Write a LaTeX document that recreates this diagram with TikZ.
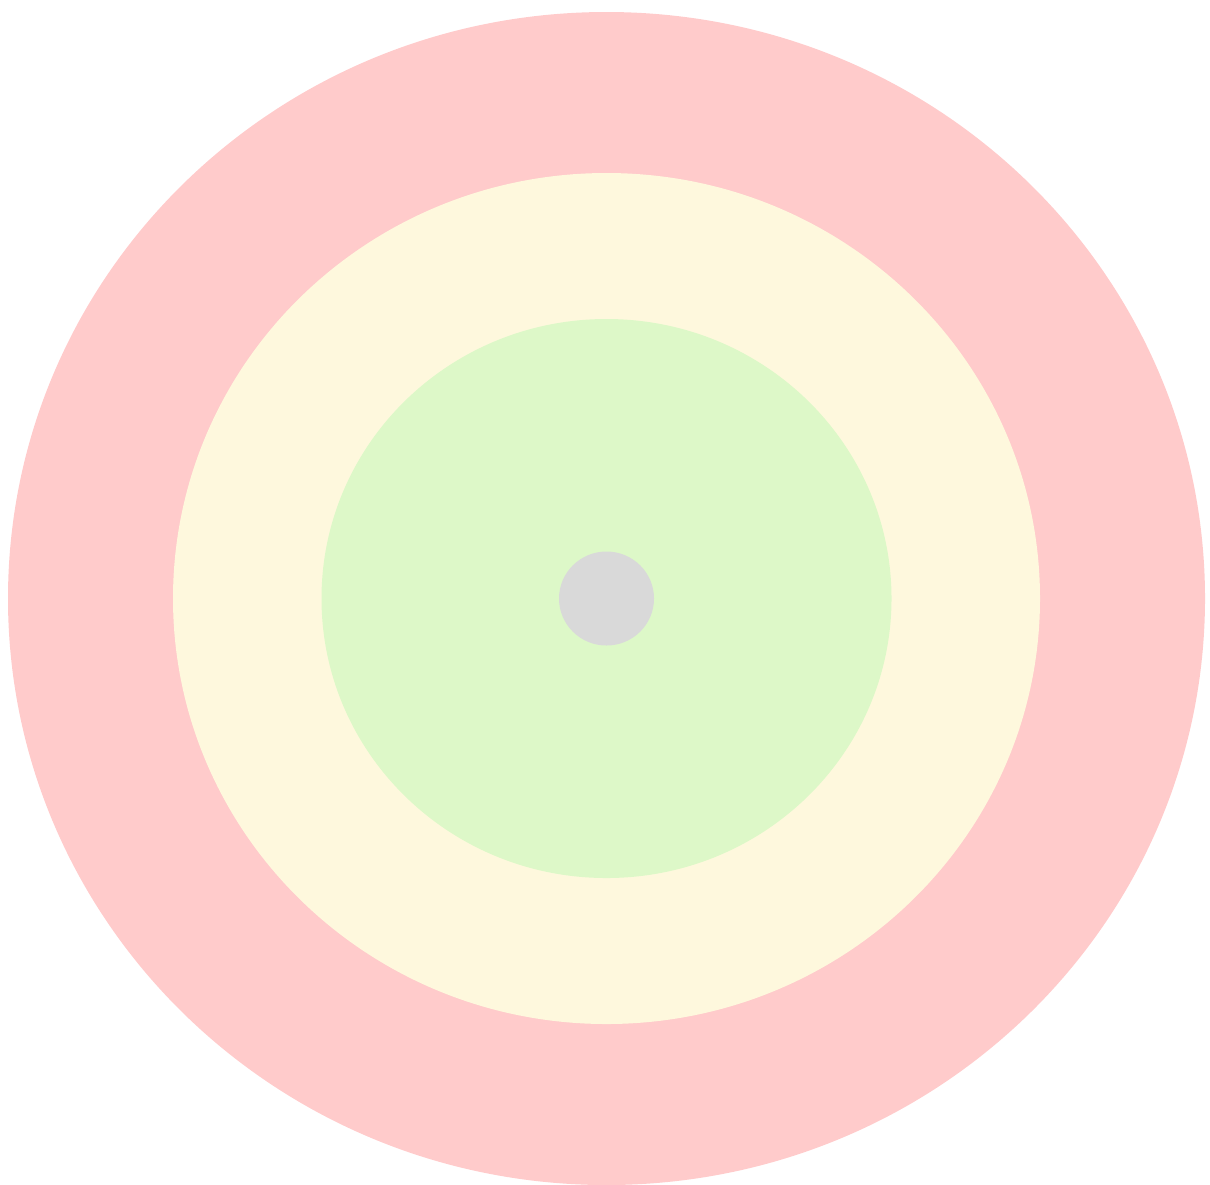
\documentclass[tikz,border=0pt]{standalone}
\usepackage{xcolor}
\usepackage{tikz}

\definecolor{ringred}{HTML}{FFCBCB}
\definecolor{ringyellow}{HTML}{FEF8DD}
\definecolor{ringgreen}{HTML}{DDF8C8}
\definecolor{coregray}{HTML}{D9D9D9}

\begin{document}
\begin{tikzpicture}[x=0.01cm, y=-0.01cm,
  ring/.style={draw=none}]
\useasboundingbox (0,0) rectangle (1210,1184);
\coordinate (c) at (606.5,598.5);
\fill[ring, ringred]    (c) ellipse [x radius=598.5, y radius=586.5];
\fill[ring, ringyellow] (c) ellipse [x radius=433.5, y radius=425.5];
\fill[ring, ringgreen]  (c) ellipse [x radius=285, y radius=279.5];
\fill[ring, coregray]   (c) ellipse [x radius=47.5, y radius=47];
\end{tikzpicture}
\end{document}
